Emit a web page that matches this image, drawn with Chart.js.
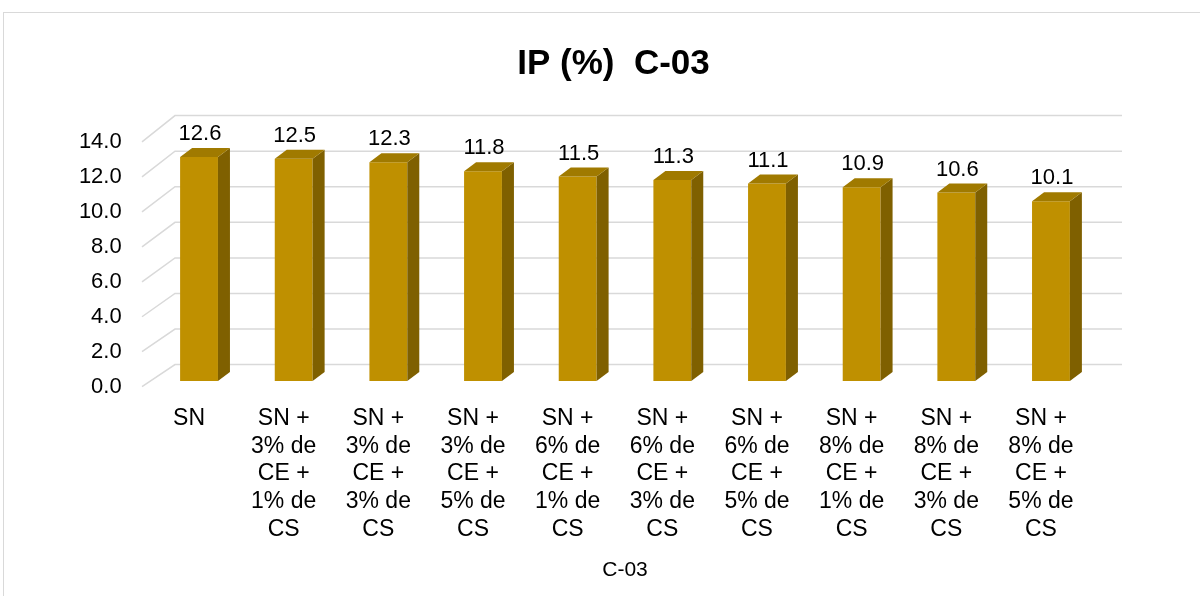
<!DOCTYPE html>
<html>
<head>
<meta charset="utf-8">
<script src="https://cdn.jsdelivr.net/npm/chart.js@4"></script>
<style>
  body { margin: 0; background: #fff; overflow: hidden; }
  #frame { position: absolute; left: 3px; top: 12px; width: 1300px; height: 700px;
           border-left: 1px solid #d9d9d9; border-top: 1px solid #d9d9d9; }
  #myChart { position: absolute; left: 0; top: 0; }
</style>
</head>
<body>
<div id="frame"></div>
<canvas id="myChart" width="1200" height="596"></canvas>
<script>
// data
const categories = [
    ['SN'],
    ['SN +', '3% de', 'CE +', '1% de', 'CS'],
    ['SN +', '3% de', 'CE +', '3% de', 'CS'],
    ['SN +', '3% de', 'CE +', '5% de', 'CS'],
    ['SN +', '6% de', 'CE +', '1% de', 'CS'],
    ['SN +', '6% de', 'CE +', '3% de', 'CS'],
    ['SN +', '6% de', 'CE +', '5% de', 'CS'],
    ['SN +', '8% de', 'CE +', '1% de', 'CS'],
    ['SN +', '8% de', 'CE +', '3% de', 'CS'],
    ['SN +', '8% de', 'CE +', '5% de', 'CS']
];
const ipValues = [12.6, 12.5, 12.3, 11.8, 11.5, 11.3, 11.1, 10.9, 10.6, 10.1];
const yMin = 0;
const yMax = 14;
const yStep = 2;

const FONT = '"Liberation Sans", Arial, sans-serif';
Chart.defaults.font.family = FONT;
Chart.defaults.color = '#000';

// 3d look
const frontColor = '#BF9000';
const sideColor = '#7F6000';
const topColor = '#A07A00';
const depth = { dx: 12, dy: -9 };
const wall = { backDy: -16.4, leftIn: 23.3, rightOut: 23.7, frontOut: -9.7 };

const bars3d = {
    id: 'bars3d',
    beforeDatasetsDraw(chart) {
        const { ctx, chartArea: ca, scales } = chart;
        const y = scales.y, yf = scales.yf;
        ctx.save();
        ctx.strokeStyle = '#d9d9d9';
        ctx.lineWidth = 1.5;
        yf.ticks.forEach(t => {
            const yF = yf.getPixelForValue(t.value);
            const yB = y.getPixelForValue(t.value) + wall.backDy;
            ctx.beginPath();
            ctx.moveTo(ca.left + wall.frontOut, yF);
            ctx.lineTo(ca.left + wall.leftIn, yB);
            ctx.lineTo(ca.right + wall.rightOut, yB);
            ctx.stroke();
        });
        ctx.restore();
    },
    afterDatasetsDraw(chart) {
        const ctx = chart.ctx;
        const meta = chart.getDatasetMeta(0);
        const { dx, dy } = depth;
        ctx.save();
        meta.data.forEach((bar, i) => {
            const { x, y, base, width } = bar.getProps(['x', 'y', 'base', 'width'], true);
            const l = x - width / 2, r = x + width / 2;
            // side face
            ctx.fillStyle = sideColor;
            ctx.beginPath();
            ctx.moveTo(r, y);
            ctx.lineTo(r + dx, y + dy);
            ctx.lineTo(r + dx, base + dy);
            ctx.lineTo(r, base);
            ctx.closePath();
            ctx.fill();
            // top face
            ctx.fillStyle = topColor;
            ctx.beginPath();
            ctx.moveTo(l, y);
            ctx.lineTo(l + dx, y + dy);
            ctx.lineTo(r + dx, y + dy);
            ctx.lineTo(r, y);
            ctx.closePath();
            ctx.fill();
            // value label
            ctx.fillStyle = '#000';
            ctx.font = '22px ' + FONT;
            ctx.textAlign = 'center';
            ctx.textBaseline = 'middle';
            ctx.fillText(ipValues[i].toFixed(1), x + 1, y - 23);
        });
        ctx.restore();
    }
};

const data = {
    labels: categories,
    datasets: [{
        data: ipValues,
        backgroundColor: frontColor,
        borderWidth: 0,
        barPercentage: 0.4,
        categoryPercentage: 1.0
    }]
};

const config = {
    type: 'bar',
    data,
    options: {
        responsive: false,
        animation: false,
        layout: { padding: { left: 27, right: 0, top: 0, bottom: 0 } },
        plugins: {
            legend: { display: false },
            tooltip: { enabled: false },
            title: {
                display: true,
                text: 'IP (%)  C-03',
                color: '#000',
                font: { size: 35, weight: 'bold' },
                padding: { top: 43, bottom: 47 }
            }
        },
        scales: {
            x: {
                grid: { display: false, drawTicks: false },
                border: { display: false },
                ticks: {
                    color: '#000',
                    font: { size: 23, lineHeight: 1.2 },
                    padding: 24,
                    labelOffset: -10,
                    maxRotation: 0,
                    minRotation: 0,
                    autoSkip: false
                },
                title: {
                    display: true,
                    text: 'C-03',
                    color: '#000',
                    font: { size: 21 },
                    padding: { top: 0, bottom: 13 }
                },
                afterFit(s) { s.height = 215; }
            },
            y: {
                display: false,
                min: yMin,
                max: yMax
            },
            // front plane of the box (slightly larger, lower), carries the tick labels
            yf: {
                type: 'linear',
                position: 'left',
                bounds: 'data',
                min: 0.3256,
                max: 14.565,
                grid: { display: false, drawTicks: false },
                border: { display: false },
                ticks: {
                    padding: 30,
                    color: '#000',
                    font: { size: 22 },
                    callback: v => v.toFixed(1)
                },
                afterBuildTicks(s) {
                    const t = [];
                    for (let v = yMin; v <= yMax; v += yStep) t.push({ value: v });
                    s.ticks = t;
                },
                afterFit(s) { s.width = 124.7; }
            },
            // empty strip on the right (room for the depth of the box)
            yr: {
                type: 'linear',
                position: 'right',
                grid: { display: false, drawTicks: false },
                border: { display: false },
                ticks: { display: false },
                afterFit(s) { s.width = 101.7; }
            }
        }
    },
    plugins: [bars3d]
};

const myChart = new Chart(document.getElementById('myChart'), config);
</script>
</body>
</html>
